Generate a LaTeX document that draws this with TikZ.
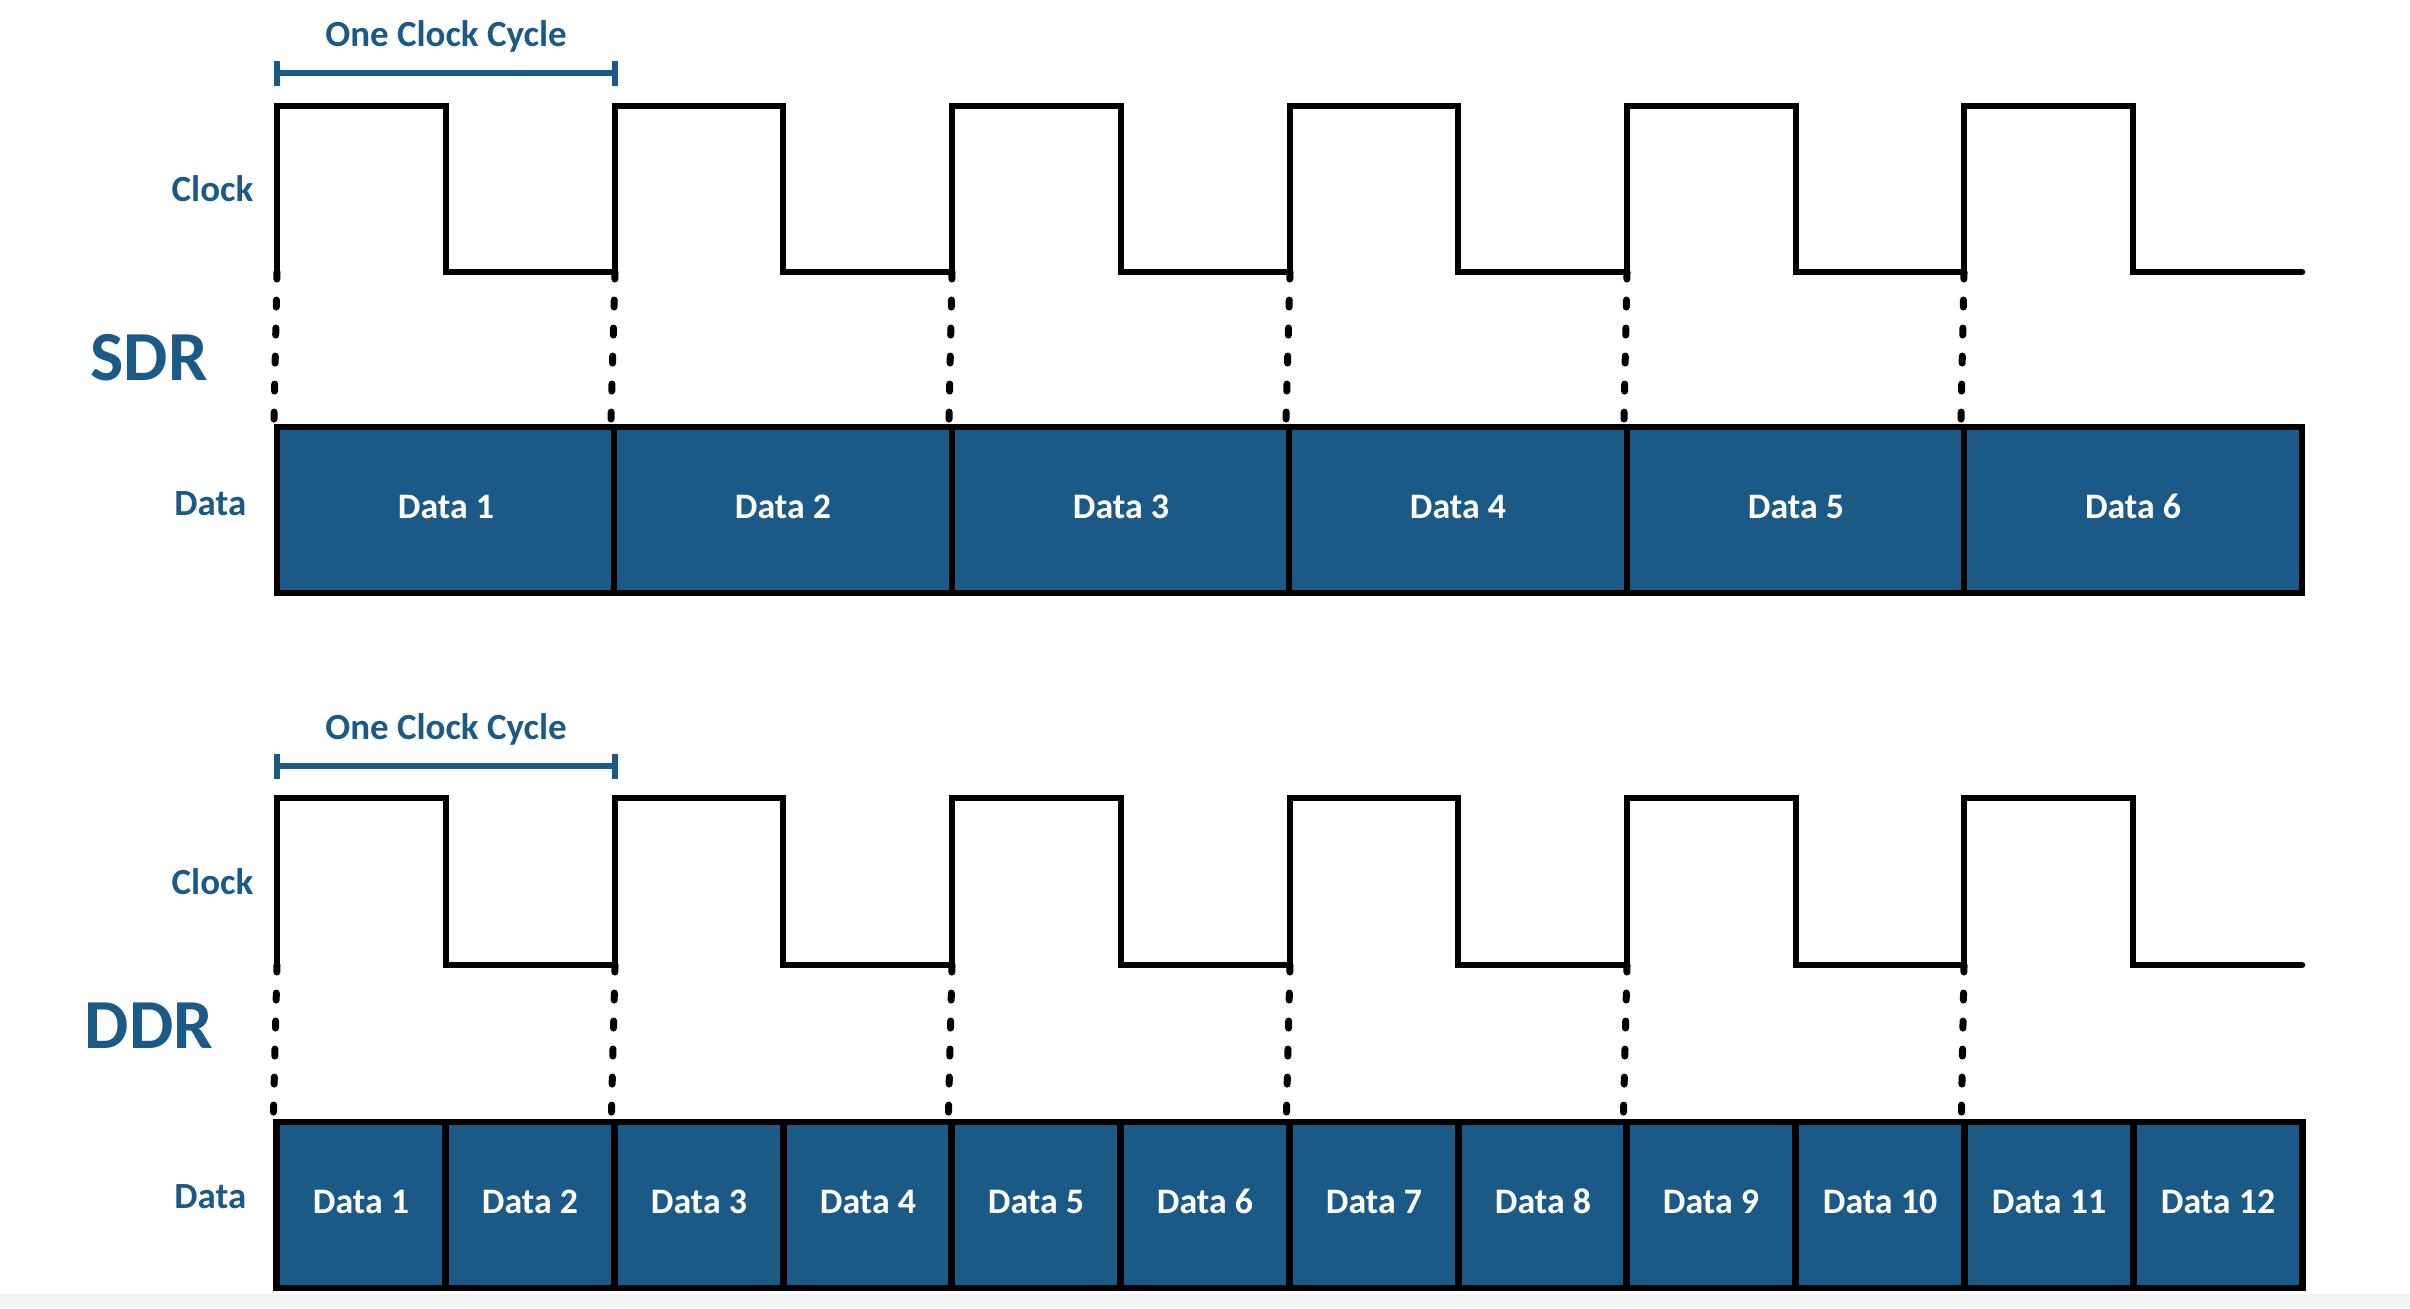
\documentclass[tikz,border=0pt]{standalone}
\usepackage{fontspec}
\setmainfont{Carlito}
\usepackage{tikz}
\usepackage{color}

\definecolor{ddrblue}{RGB}{27,90,135}

\tikzset{
  wave/.style={line width=0.065cm, line cap=round},
  edge/.style={line width=0.07cm, line cap=round, dash pattern=on 0.07cm off 0.21cm},
  cycle/.style={line width=0.06cm, ddrblue},
  slot/.style={draw, line width=0.065cm, fill=ddrblue, text=white, inner sep=0pt,
    minimum height=1.66cm, text height=0.22cm, text depth=0.05cm,
    font=\fontsize{10.2}{12}\selectfont\bfseries},
  wide/.style={slot, minimum width=3.375cm},
  half/.style={slot, minimum width=1.6875cm},
  lbl/.style={ddrblue, inner sep=0pt, font=\fontsize{10.5}{12}\selectfont\bfseries},
  big/.style={ddrblue, inner sep=0pt, font=\fontsize{20}{24}\selectfont\bfseries}
}

\begin{document}
\begin{tikzpicture} [x=0.01cm, y=-0.01cm]

\useasboundingbox (0,0) rectangle (2410,1308);
\fill [black!5] (0,1294) rectangle (2410,1308);

% SDR
\node [lbl, anchor=base] (scyc) at (446,46) {One Clock Cycle};
\draw [cycle] (277,61) -- (277,86) (277,73) -- (615,73) (615,61) -- (615,86);

\node [lbl, anchor=base east] (sclk) at (254,201) {Clock};
\node [big, anchor=base west] (sdr) at (90,380) {SDR};
\node [lbl, anchor=base east] (sdat) at (247,515) {Data};

\coordinate (s0) at (277,272);
\coordinate (s1) at (615,272);
\coordinate (s2) at (952,272);
\coordinate (s3) at (1290,272);
\coordinate (s4) at (1627,272);
\coordinate (s5) at (1964,272);

\node [wide] (sd1) at (446,510) {Data 1};
\node [wide] (sd2) at (783,510) {Data 2};
\node [wide] (sd3) at (1121,510) {Data 3};
\node [wide] (sd4) at (1458,510) {Data 4};
\node [wide] (sd5) at (1796,510) {Data 5};
\node [wide] (sd6) at (2133,510) {Data 6};

\draw [wave] (s0) |- (446,106) |- (s1) |- (783,106) |- (s2) |- (1121,106) |- (s3)
  |- (1458,106) |- (s4) |- (1796,106) |- (s5) |- (2133,106) |- (2302,272);

\draw [edge] (s0) -- (sd1.north west);
\draw [edge] (s1) -- (sd2.north west);
\draw [edge] (s2) -- (sd3.north west);
\draw [edge] (s3) -- (sd4.north west);
\draw [edge] (s4) -- (sd5.north west);
\draw [edge] (s5) -- (sd6.north west);

% DDR
\node [lbl, anchor=base] (dcyc) at (446,739) {One Clock Cycle};
\draw [cycle] (277,754) -- (277,779) (277,766) -- (615,766) (615,754) -- (615,779);

\node [lbl, anchor=base east] (dclk) at (254,894) {Clock};
\node [big, anchor=base west] (ddr) at (84,1048) {DDR};
\node [lbl, anchor=base east] (ddat) at (247,1208) {Data};

\coordinate (d0) at (277,965);
\coordinate (d1) at (615,965);
\coordinate (d2) at (952,965);
\coordinate (d3) at (1290,965);
\coordinate (d4) at (1627,965);
\coordinate (d5) at (1964,965);

\node [half] (dd1) at (361,1205) {Data 1};
\node [half] (dd2) at (530,1205) {Data 2};
\node [half] (dd3) at (699,1205) {Data 3};
\node [half] (dd4) at (868,1205) {Data 4};
\node [half] (dd5) at (1036,1205) {Data 5};
\node [half] (dd6) at (1205,1205) {Data 6};
\node [half] (dd7) at (1374,1205) {Data 7};
\node [half] (dd8) at (1543,1205) {Data 8};
\node [half] (dd9) at (1711,1205) {Data 9};
\node [half] (dd10) at (1880,1205) {Data 10};
\node [half] (dd11) at (2049,1205) {Data 11};
\node [half] (dd12) at (2218,1205) {Data 12};

\draw [wave] (d0) |- (446,798) |- (d1) |- (783,798) |- (d2) |- (1121,798) |- (d3)
  |- (1458,798) |- (d4) |- (1796,798) |- (d5) |- (2133,798) |- (2302,965);

\draw [edge] (d0) -- (dd1.north west);
\draw [edge] (d1) -- (dd3.north west);
\draw [edge] (d2) -- (dd5.north west);
\draw [edge] (d3) -- (dd7.north west);
\draw [edge] (d4) -- (dd9.north west);
\draw [edge] (d5) -- (dd11.north west);

\end{tikzpicture}
\end{document}
